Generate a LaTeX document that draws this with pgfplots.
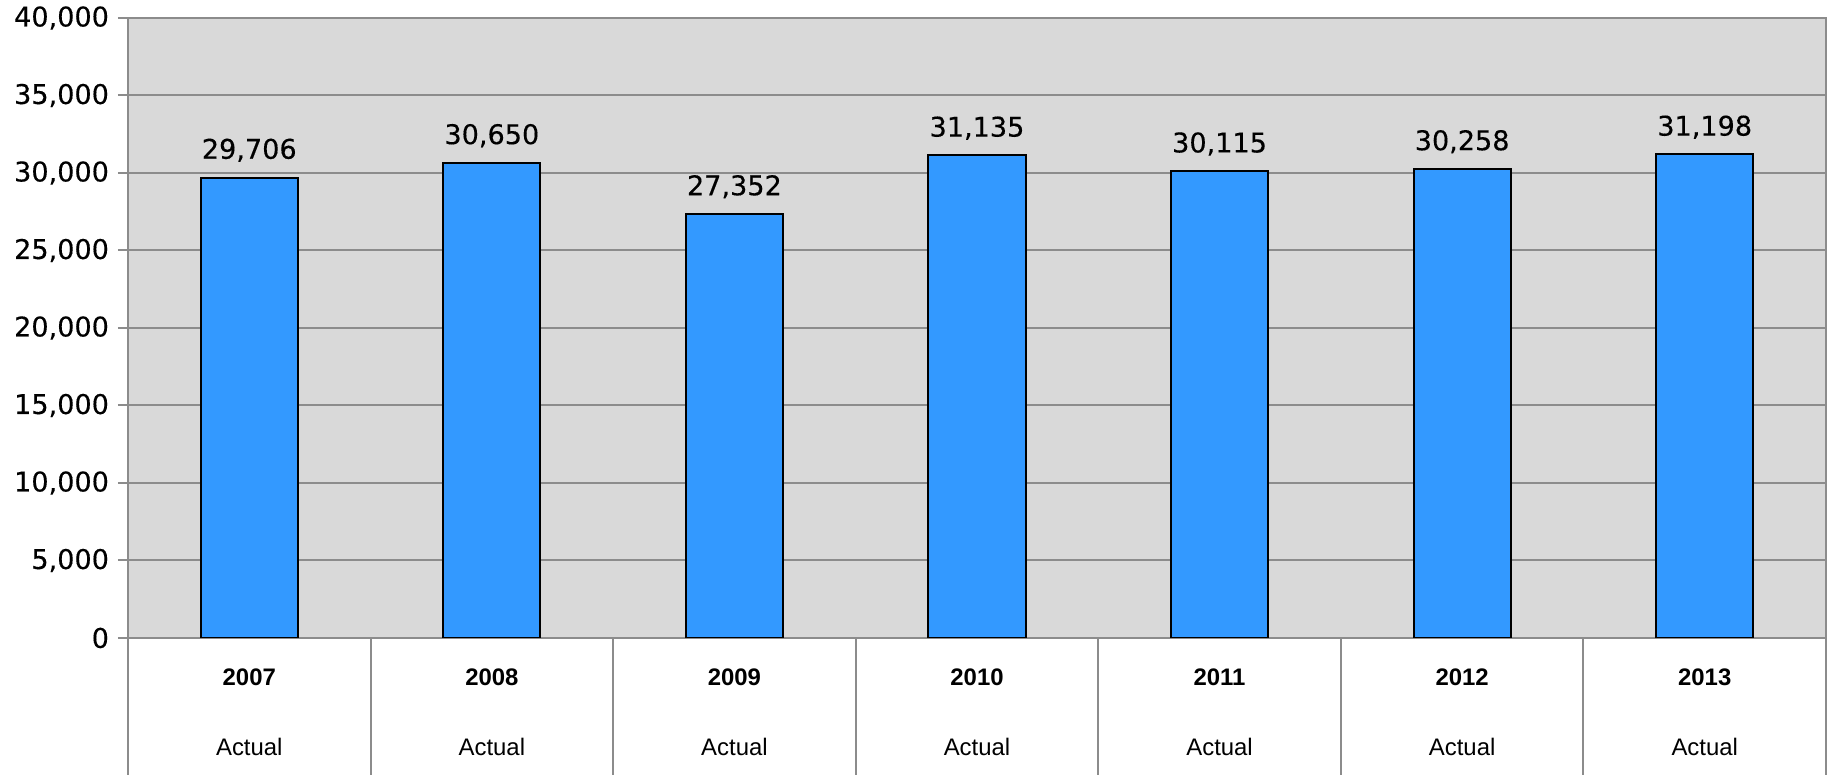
\documentclass[border=0pt]{standalone}
\usepackage{fontspec}
\setmainfont{DejaVu Sans}
\newfontfamily\catfont{Liberation Sans}
\usepackage{pgfplots}
\pgfplotsset{compat=1.18}
\definecolor{plotbg}{HTML}{D9D9D9}
\definecolor{gridgray}{HTML}{8C8C8C}
\definecolor{barblue}{HTML}{3399FF}

\begin{document}
\begin{tikzpicture}
\begin{axis}[
    scale only axis,
    width=849bp, height=310bp,
    xmin=-0.5, xmax=6.5,
    ymin=0, ymax=40000,
    ytick={0,5000,...,40000},
    xtick={0,...,6},
    xticklabels={
      {\bfseries 2007\\[22bp]\mdseries Actual},
      {\bfseries 2008\\[22bp]\mdseries Actual},
      {\bfseries 2009\\[22bp]\mdseries Actual},
      {\bfseries 2010\\[22bp]\mdseries Actual},
      {\bfseries 2011\\[22bp]\mdseries Actual},
      {\bfseries 2012\\[22bp]\mdseries Actual},
      {\bfseries 2013\\[22bp]\mdseries Actual}},
    minor xtick={-0.5,0.5,...,6.5},
    tick pos=left,
    tick align=outside,
    major tick length=5bp,
    minor tick length=68.5bp,
    major x tick style={draw=none},
    minor x tick style={gridgray, line width=1bp},
    y tick style={gridgray, line width=1bp},
    axis background/.style={fill=plotbg},
    ymajorgrids,
    major grid style={gridgray, line width=1bp},
    axis line style={gridgray, line width=1.2bp},
    scaled y ticks=false,
    /pgf/number format/1000 sep={,},
    /pgf/number format/assume math mode=true,
    yticklabel style={font=\addfontfeatures{FakeBold=0.3}\fontsize{13.6}{15}\selectfont, xshift=-1bp},
    xticklabel style={font=\catfont\fontsize{12}{13}\selectfont, align=center, yshift=-7bp},
    nodes near coords,
    nodes near coords style={font=\addfontfeatures{FakeBold=0.3}\fontsize{13.6}{15}\selectfont, yshift=4bp},
  ]
  \addplot[ybar, bar width=0.4, fill=barblue, draw=black, line width=1bp]
    coordinates {(0,29706) (1,30650) (2,27352) (3,31135)
                 (4,30115) (5,30258) (6,31198)};
\end{axis}
\pgfresetboundingbox
\path[use as bounding box]
  ([xshift=-64bp,yshift=-68.5bp]current axis.south west)
  rectangle ([xshift=1bp,yshift=9bp]current axis.north east);
\end{tikzpicture}
\end{document}
